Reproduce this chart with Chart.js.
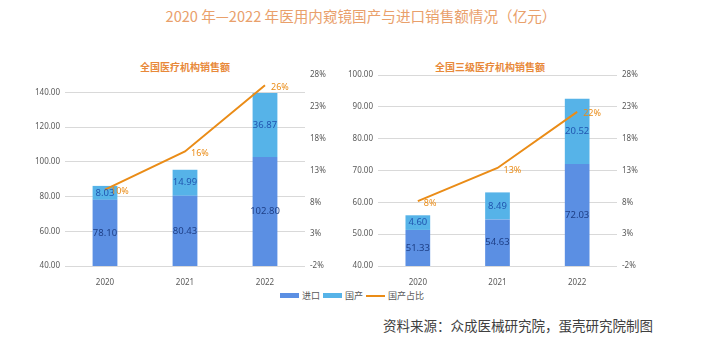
<!DOCTYPE html>
<html><head><meta charset="utf-8">
<script src="https://cdn.jsdelivr.net/npm/chart.js@4/dist/chart.umd.min.js"></script>
<style>
html,body{margin:0;padding:0;background:#fff;width:706px;height:352px;overflow:hidden;font-family:"Noto Sans CJK SC","Noto Sans",sans-serif;}
#title{position:absolute;left:0;width:722px;top:5px;text-align:center;font-size:14.6px;color:#E9A06B;white-space:nowrap;}
.sub{position:absolute;top:59px;font-size:10px;font-weight:bold;color:#E8893A;white-space:nowrap;text-align:center;}
#c1{position:absolute;left:0;top:0;}
#c2{position:absolute;left:340px;top:0;}
#legend{position:absolute;top:289px;left:280px;font-size:9px;color:#595959;white-space:nowrap;display:flex;align-items:center;}
#legend span.sw{display:inline-block;width:19px;height:5px;margin-right:3px;}
#legend span.ln{display:inline-block;width:19px;height:2px;margin-right:3px;}
#legend span.t{margin-right:3px;}
#src{position:absolute;left:383px;top:315px;font-size:13.5px;color:#404040;white-space:nowrap;}
</style></head>
<body>
<div id="title">2020 年—2022 年医用内窥镜国产与进口销售额情况（亿元）</div>
<div class="sub" style="left:135px;width:100px;">全国医疗机构销售额</div>
<div class="sub" style="left:430px;width:120px;">全国三级医疗机构销售额</div>
<canvas id="c1" width="353" height="286"></canvas>
<canvas id="c2" width="353" height="286"></canvas>
<div id="legend"></div>
<div id="src">资料来源：众成医械研究院，蛋壳研究院制图</div>
<script>
const years = ['2020','2021','2022'];
const seriesNames = ['进口','国产','国产占比'];
// 全国医疗机构销售额
const allImport = [78.10, 80.43, 102.80];
const allDomestic = [8.03, 14.99, 36.87];
const allShare = [10, 16, 26.4];
// 全国三级医疗机构销售额
const tier3Import = [51.33, 54.63, 72.03];
const tier3Domestic = [4.60, 8.49, 20.52];
const tier3Share = [8.2, 13.4, 22.2];
// tick labels
const leftTicks1 = [40, 60, 80, 100, 120, 140];
const leftTicks2 = [40, 50, 60, 70, 80, 90, 100];
const rightTicks = [-2, 3, 8, 13, 18, 23, 28];

const C_IMPORT = '#5B8FE3', C_DOM = '#56B3E8', C_LINE = '#EA8C17';

const labelPlugin = {
  id: 'valLabels',
  afterDatasetsDraw(chart) {
    const ctx = chart.ctx;
    const bottom = chart.chartArea.bottom;
    chart.data.datasets.forEach((ds, di) => {
      const meta = chart.getDatasetMeta(di);
      meta.data.forEach((el, i) => {
        const v = ds.data[i];
        ctx.save();
        if (ds.type === 'line') {
          ctx.font = '9px "Noto Sans", sans-serif';
          ctx.fillStyle = C_LINE;
          ctx.textAlign = 'left';
          ctx.textBaseline = 'middle';
          ctx.fillText(Math.round(v) + '%', el.x + 6, el.y + 2);
        } else {
          ctx.font = '9.5px "Noto Sans", sans-serif';
          ctx.fillStyle = di === 0 ? '#1E3F86' : '#2156B0';
          ctx.textAlign = 'center';
          ctx.textBaseline = 'middle';
          const base = Math.min(el.base, bottom);
          ctx.fillText(v.toFixed(2), el.x, (el.y + base) / 2);
        }
        ctx.restore();
      });
    });
  }
};

function makeChart(id, imp, dom, share, yMin, yMax, yTicks, leftW, rightW) {
  return new Chart(document.getElementById(id), {
    data: {
      labels: years,
      datasets: [
        {type: 'bar', label: seriesNames[0], data: imp, backgroundColor: C_IMPORT, yAxisID: 'y', order: 1,
         categoryPercentage: 1, barPercentage: 0.31},
        {type: 'bar', label: seriesNames[1], data: dom, backgroundColor: C_DOM, yAxisID: 'y', order: 1,
         categoryPercentage: 1, barPercentage: 0.31},
        {type: 'line', label: seriesNames[2], data: share, borderColor: C_LINE, borderWidth: 2, pointRadius: 0,
         yAxisID: 'y1', order: 0, tension: 0}
      ]
    },
    options: {
      responsive: false, animation: false, devicePixelRatio: 1,
      layout: {padding: {top: 75, left: 0, right: 0, bottom: 0}},
      plugins: {legend: {display: false}, tooltip: {enabled: false}, title: {display: false}},
      scales: {
        x: {stacked: true, grid: {display: false}, border: {display: false},
            ticks: {color: '#595959', font: {size: 8, family: '"Noto Sans", sans-serif'}, padding: 4},
            afterFit(s) { s.height = 20; }},
        y: {stacked: true, position: 'left', min: yMin, max: yMax,
            grid: {color: '#D9D9D9', drawTicks: false}, border: {display: false},
            ticks: {color: '#595959', font: {size: 8, family: '"Noto Sans", sans-serif'}, padding: 5,
                    callback: v => v.toFixed(2)},
            afterBuildTicks(s) { s.ticks = yTicks.map(v => ({value: v})); },
            afterFit(s) { s.width = leftW; }},
        y1: {position: 'right', min: -2, max: 28,
             grid: {display: false, drawTicks: false}, border: {display: false},
             ticks: {color: '#595959', font: {size: 8, family: '"Noto Sans", sans-serif'}, padding: 5,
                     callback: v => v + '%'},
             afterBuildTicks(s) { s.ticks = rightTicks.map(v => ({value: v})); },
             afterFit(s) { s.width = rightW; }}
      }
    },
    plugins: [labelPlugin]
  });
}

makeChart('c1', allImport, allDomestic, allShare, 40, 150, leftTicks1, 65, 48);
makeChart('c2', tier3Import, tier3Domestic, tier3Share, 40, 100, leftTicks2, 38, 76);

// legend
const lg = document.getElementById('legend');
[[C_IMPORT,'sw'],[C_DOM,'sw'],[C_LINE,'ln']].forEach((it, i) => {
  const s = document.createElement('span'); s.className = it[1]; s.style.background = it[0]; lg.appendChild(s);
  const t = document.createElement('span'); t.className = 't'; t.textContent = seriesNames[i]; lg.appendChild(t);
});
</script>
</body></html>
